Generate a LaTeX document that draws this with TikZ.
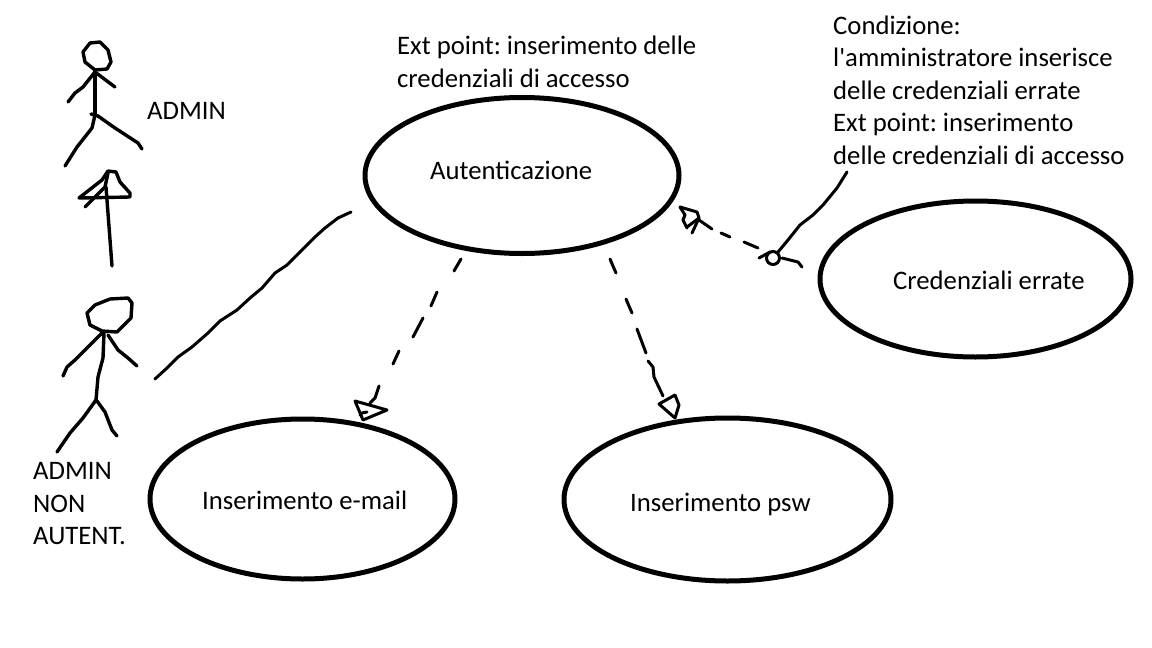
\documentclass[tikz,border=0pt]{standalone}
\usepackage{fontspec}
\setmainfont{Carlito}
\usetikzlibrary{shapes.geometric}
\tikzset{
  usecase/.style={draw,ellipse,line width=5pt,inner sep=0pt},
  lab/.style={anchor=west,inner sep=0pt,align=left,font=\fontsize{26.7}{32.5}\selectfont\frenchspacing},
  pen/.style={line width=3.4pt,line cap=round,line join=round},
  thinpen/.style={line width=3pt,line cap=round,line join=round}
}
\begin{document}
\begin{tikzpicture}[x=1pt,y=-1pt]
\useasboundingbox (0,0) rectangle (1152,648);
% use cases
\node[usecase,minimum width=314pt,minimum height=156pt] (aut) at (522,175.5) {};
\node[usecase,minimum width=305pt,minimum height=160pt] (mail) at (302.5,499) {};
\node[usecase,minimum width=327pt,minimum height=163pt] (psw) at (727.5,499.5) {};
\node[usecase,minimum width=311pt,minimum height=156pt] (err) at (975.5,279) {};
\node[lab] (autlab) at (430,170) {Autenticazione};
\node[lab] (maillab) at (202,500) {Inserimento e-mail};
\node[lab] (pswlab) at (630,504) {Inserimento psw};
\node[lab] (errlab) at (893,280) {Credenziali errate};
% notes
\node[lab] (extlab) at (397,62) {Ext point: inserimento delle\\credenziali di accesso};
\node[lab] (condlab) at (833,90) {Condizione:\\l\textquotesingle amministratore inserisce\\delle credenziali errate\\Ext point: inserimento\\delle credenziali di accesso};
% actors
\node[lab] (adminlab) at (147,111) {ADMIN};
\node[lab] (nonlab) at (33,504) {ADMIN\\NON\\AUTENT.};
\draw[pen] (95,70) -- (85,62) -- (83,52) -- (90,43) -- (100,42) -- (108,50) -- (111,62) -- (107,69) -- (95,70);
\draw[pen] (95,72) -- (83,87) -- (75,93) -- (68,102);
\draw[pen] (95,72) -- (115,87);
\draw[pen] (95,70) -- (95,115);
\draw[pen] (91,114) -- (98,116);
\draw[pen] (95,115) -- (92,128) -- (77,147) -- (65,166);
\draw[pen] (98,116) -- (115,128) -- (138,143) -- (142,149);
\draw[pen] (102,331) -- (90,325) -- (87,313) -- (95,305) -- (110,299) -- (128,298) -- (132,303) -- (131,318) -- (117,332) -- (102,331);
\draw[pen] (102,333) -- (85,350) -- (75,360) -- (67,367) -- (63,376);
\draw[pen] (108,335) -- (118,350) -- (128,358) -- (137,366);
\draw[pen] (104,333) -- (103,358) -- (98,377) -- (96,400);
\draw[pen] (96,400) -- (83,418) -- (70,433) -- (57,452);
\draw[pen] (97,401) -- (105,412) -- (112,430) -- (117,436);
% inheritance
\draw[pen] (112,266) -- (106,187);
\draw[pen] (79,198) -- (130,197) -- (130,193) -- (120,182) -- (116,172) -- (108,171) -- (102,180) -- (79,198);
\draw[pen] (85,207) -- (105,187) -- (108,173);
% association
\coordinate (assocA) at (155,379);
\coordinate (assocB) at (351,212);
\draw[thinpen] (assocA) -- (167,368) -- (178,357) -- (192,347) -- (208,333) -- (220,321) -- (237,310) -- (250,298) -- (262,288) -- (275,273) -- (287,265) -- (300,252) -- (315,237) -- (325,228) -- (338,218) -- (assocB);
% include to e-mail
\draw[thinpen] (461,259) -- (454,271);
\draw[thinpen] (437,292) -- (431,306);
\draw[thinpen] (423,318) -- (413,337);
\draw[thinpen] (399,351) -- (393,364);
\draw[thinpen] (379,386) -- (375,398) -- (370,403);
\draw[thinpen] (355,401) -- (387,410) -- (363,420) -- (355,401);
\draw[thinpen] (360,415) -- (362,413) -- (367,412);
% include to psw
\draw[thinpen] (610,259) -- (616,273);
\draw[thinpen] (626,299) -- (632,313);
\draw[thinpen] (637,329) -- (646,353);
\draw[thinpen] (648,361) -- (653,367) -- (654,377) -- (663,396);
\draw[thinpen] (675,395) -- (659,404) -- (675,418) -- (679,405) -- (675,395);
% extend
\draw[thinpen] (680,207) -- (697,212) -- (699,218) -- (692,233);
\draw[thinpen] (680,207) -- (685,215) -- (683,220) -- (687,228);
\draw[thinpen] (687,227) -- (699,218);
\draw[thinpen] (699,220) -- (712,229);
\draw[thinpen] (721,233) -- (730,237);
\draw[thinpen] (744,242) -- (758,248);
\draw[thinpen] (759,258) -- (770,252);
\node[draw,circle,line width=3pt,minimum size=13pt,inner sep=0pt] (extdot) at (773,258) {};
\draw[thinpen] (782,258) -- (798,262) -- (802,267);
\coordinate (noteend) at (847,172);
\draw[thinpen] (extdot) -- (788,240) -- (800,225) -- (813,215) -- (823,205) -- (837,188) -- (noteend);
\end{tikzpicture}
\end{document}
